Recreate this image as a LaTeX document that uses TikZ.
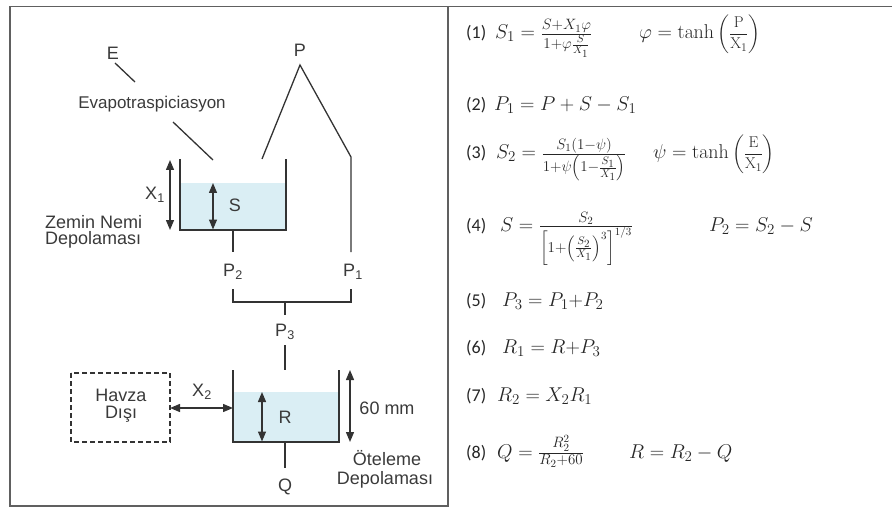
\RequirePackage{fix-cm}
\documentclass[tikz,border=0pt]{standalone}
\usepackage{amsmath}
\usepackage[no-math]{fontspec}
\setmainfont{Liberation Sans}
\newfontfamily\labfont{Carlito}
\DeclareMathSizes{20}{20}{15}{11}
\usetikzlibrary{arrows.meta}
\definecolor{txtgray}{HTML}{3A3A3A}
\definecolor{linegray}{HTML}{333333}
\definecolor{framegray}{HTML}{606060}
\definecolor{water}{HTML}{DAEEF4}
\begin{document}
\begin{tikzpicture}[x=1pt,y=-1pt,
  lbl/.style={font=\fontsize{18}{20}\selectfont, text=txtgray, inner sep=0pt},
  ln/.style={draw=linegray, line width=1.3pt},
  dbl/.style={ln, {Triangle[length=10pt,width=8pt]}-{Triangle[length=10pt,width=8pt]}},
  eqlab/.style={font=\labfont\fontsize{18}{20}\selectfont, anchor=base west, inner sep=0pt, text=black!85},
  eq/.style={font=\fontsize{20}{22}\selectfont, anchor=base west, inner sep=0pt, text=black!85}]
\useasboundingbox (0,0) rectangle (892,508);
% frames
\draw[framegray, line width=1.8pt] (10,6.5) rectangle (448,506);
\draw[framegray, line width=1.8pt] (448,6.5) -- (892,6.5);

% evaporation
\node[lbl] (E) at (113,53) {E};
\coordinate (e1) at (115,63);
\coordinate (e2) at (135,82);
\draw[ln] (e1) -- (e2);
\node[lbl, font=\fontsize{17}{20}\selectfont] (evap) at (152,104) {Evapotraspiciasyon};
\coordinate (e3) at (173,122);
\coordinate (e4) at (213,160);
\draw[ln] (e3) -- (e4);

% precipitation
\node[lbl] (P) at (300,50) {P};
\coordinate (pa) at (300,65);
\coordinate (pl) at (262,159);
\coordinate (pr) at (351,157);
\coordinate (prb) at (351,252);
\draw[ln] (pl) -- (pa) -- (pr) -- (prb);

% top tank
\fill[water] (180,183) rectangle (286,230);
\coordinate (t1tl) at (180,159);
\coordinate (t1bl) at (180,230);
\coordinate (t1br) at (286,230);
\coordinate (t1tr) at (286,159);
\draw[ln] (t1tl) -- (t1bl) -- (t1br) -- (t1tr);
\coordinate (x1t) at (170,160);
\coordinate (x1b) at (170,230);
\draw[dbl] (x1t) -- (x1b);
\node[lbl] (X1) at (155,195) {X\textsubscript{1}};
\coordinate (st) at (213,183);
\coordinate (sb) at (213,229.5);
\draw[dbl] (st) -- (sb);
\node[lbl] (S) at (235,205) {S};
\node[lbl, anchor=west] (zemin) at (45,222) {Zemin Nemi};
\node[lbl, anchor=west] (dep1) at (45,240) {Depolaması};

% P2 / P1 / P3
\coordinate (s1) at (233,230);
\coordinate (s2) at (233,252);
\draw[ln] (s1) -- (s2);
\node[lbl] (P2) at (233,272) {P\textsubscript{2}};
\node[lbl] (P1) at (353,272) {P\textsubscript{1}};
\coordinate (bl) at (233,289);
\coordinate (blb) at (233,302);
\coordinate (brb) at (351,302);
\coordinate (br) at (351,289);
\draw[ln] (bl) -- (blb) -- (brb) -- (br);
\coordinate (bm) at (285,302);
\coordinate (bmb) at (285,315);
\draw[ln] (bm) -- (bmb);
\node[lbl] (P3) at (285,332) {P\textsubscript{3}};
\coordinate (p3a) at (285,345);
\coordinate (p3b) at (285,370);
\draw[ln] (p3a) -- (p3b);

% bottom tank
\fill[water] (233,392) rectangle (339,442);
\coordinate (t2tl) at (233,370);
\coordinate (t2bl) at (233,442);
\coordinate (t2br) at (339,442);
\coordinate (t2tr) at (339,370);
\draw[ln] (t2tl) -- (t2bl) -- (t2br) -- (t2tr);
\coordinate (rt) at (262,392);
\coordinate (rb) at (262,441.5);
\draw[dbl] (rt) -- (rb);
\node[lbl] (R) at (285,417) {R};
\coordinate (mt) at (350,370);
\coordinate (mb) at (350,442);
\draw[dbl] (mt) -- (mb);
\node[lbl] (mm) at (387,408) {60 mm};

\draw[ln, dash pattern=on 5pt off 3pt] (71,373) rectangle (170,442);
\node[lbl] (havza) at (121,395) {Havza};
\node[lbl] (disi) at (121,414) {Dışı};
\coordinate (x2l) at (170,408);
\coordinate (x2r) at (233,408);
\draw[dbl] (x2l) -- (x2r);
\node[lbl] (X2) at (202,392) {X\textsubscript{2}};

\coordinate (qa) at (285,442);
\coordinate (qb) at (285,468);
\draw[ln] (qa) -- (qb);
\node[lbl] (Q) at (285,487) {Q};
\node[lbl] (ote) at (387,458) {Öteleme};
\node[lbl] (dep2) at (385,480) {Depolaması};

% equations
\node[eqlab] (l1) at (466,39) {(1)};
\node[eq] (q1) at (495,39) {$S_1=\frac{S+X_1\varphi}{1+\varphi\frac{S}{X_1}}$};
\node[eq] (q1b) at (639,39) {$\varphi=\tanh\,$\raisebox{1pt}{\scalebox{0.78}{$\left(\dfrac{\mathrm{P}}{\mathrm{X}_1}\right)$}}};

\node[eqlab] (l2) at (466,111) {(2)};
\node[eq] (q2) at (494,111) {$P_1=P+S-S_1$};

\node[eqlab] (l3) at (466,159) {(3)};
\node[eq] (q3) at (496,159) {$S_2=\frac{S_1(1-\psi)}{1+\psi\left(1-\frac{S_1}{X_1}\right)}$};
\node[eq] (q3b) at (653,159) {$\psi=\tanh\,$\raisebox{1pt}{\scalebox{0.78}{$\left(\dfrac{\mathrm{E}}{\mathrm{X}_1}\right)$}}};

\node[eqlab] (l4) at (466,231) {(4)};
\node[eq] (q4) at (500,231) {$S=\frac{S_2}{\left[1+\left(\frac{S_2}{X_1}\right)^3\right]^{1/3}}$};
\node[eq] (q4b) at (709,231) {$P_2=S_2-S$};

\node[eqlab] (l5) at (466,306) {(5)};
\node[eq] (q5) at (502,306) {$P_3=P_1{+}P_2$};

\node[eqlab] (l6) at (466,353) {(6)};
\node[eq] (q6) at (502,353) {$R_1=R{+}P_3$};

\node[eqlab] (l7) at (466,401) {(7)};
\node[eq] (q7) at (497,401) {$R_2=X_2R_1$};

\node[eqlab] (l8) at (466,458) {(8)};
\node[eq] (q8) at (497,458) {$Q=\frac{R_2^2}{R_2+60}$};
\node[eq] (q8b) at (629,458) {$R=R_2-Q$};
\end{tikzpicture}
\end{document}
